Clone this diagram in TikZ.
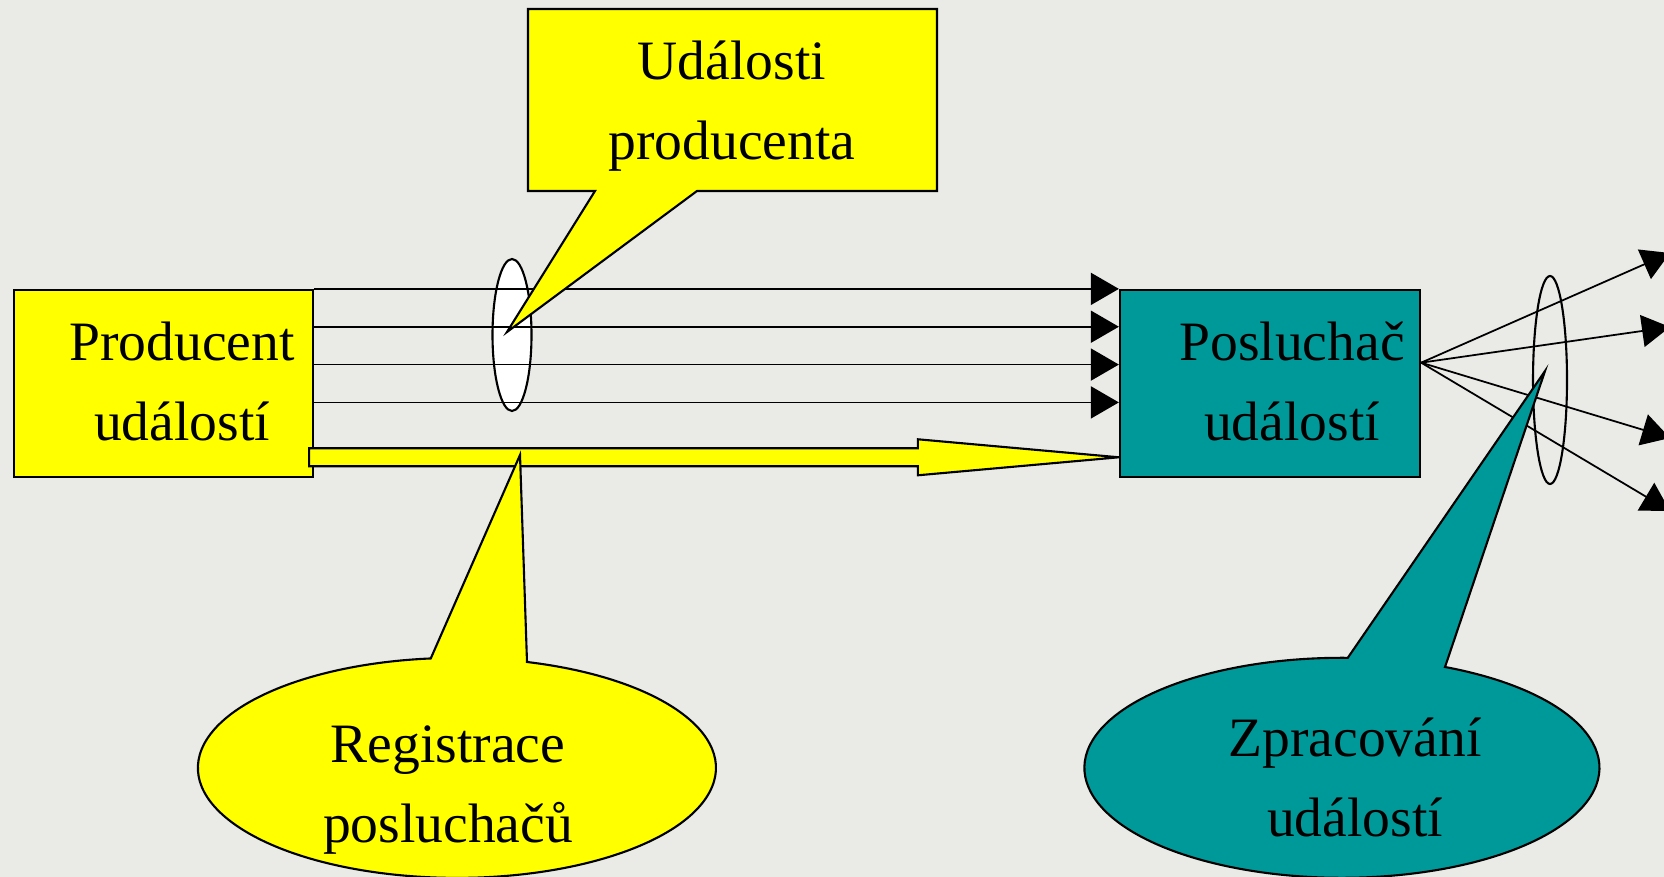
\documentclass[tikz,border=0pt]{standalone}
\usepackage{fontspec}
\setmainfont{Liberation Serif}
\usetikzlibrary{arrows.meta,calc}

\definecolor{zluta}{RGB}{255,255,0}
\definecolor{tyrkys}{RGB}{0,153,153}
\definecolor{pozadi}{RGB}{234,234,231}

\tikzset{
  blok/.style={draw=black, line width=0.6pt, minimum width=2.99cm, minimum height=1.87cm, inner sep=0pt},
  popis/.style={align=center, inner sep=0pt, anchor=base, font=\fontsize{15.8}{22.8}\selectfont},
  udalost/.style={line width=0.5pt, -{Triangle[length=2.8mm,width=3.2mm]}},
  bublina/.style={draw=black, line width=0.6pt}
}

\begin{document}
\begin{tikzpicture}[x=0.01cm, y=-0.01cm]
	\useasboundingbox (0,0) rectangle (1664,877);
	\fill[pozadi] (0,0) rectangle (1664,877);

	% bloky
	\node[blok, fill=zluta] (prod) at (163.5,383.5) {};
	\node[blok, fill=tyrkys, minimum width=3cm] (posl) at (1270,383.5) {};
	\node[popis] (prodtxt) at (182,441) {Producent\\ událostí};
	\node[popis] (posltxt) at (1292,441) {Posluchač\\ událostí};

	% udalosti producenta
	\draw[fill=white, line width=0.6pt] (512,335) ellipse [x radius=19.5, y radius=76];
	\foreach \f in {0,0.2,0.4,0.6}
		\draw[udalost] ($(prod.north east)!\f!(prod.south east)$) -- ($(posl.north west)!\f!(posl.south west)$);

	% registrace
	\coordinate (rs) at ($(prod.north east)!0.89!(prod.south east)$);
	\coordinate (re) at ($(posl.north west)!0.89!(posl.south west)$);
	\draw[fill=zluta, line width=0.6pt] ($(rs)+(-5,-9)$) -- ($(re)+(-201,-9)$) -- ($(re)+(-201,-18)$) -- (re)
		-- ($(re)+(-201,18)$) -- ($(re)+(-201,9)$) -- ($(rs)+(-5,9)$) -- cycle;

	% zpracovani
	\coordinate (fan) at ($(posl.north east)!0.39!(posl.south east)$);
	\draw[line width=0.6pt] (1550,380) ellipse [x radius=17, y radius=104];
	\foreach \y [count=\i] in {253,327,438,511}
		\coordinate (out\i) at (1670,\y);
	\foreach \i in {1,...,4}
		\draw[udalost] (fan) -- (out\i);

	% bubliny
	\coordinate (tipA) at (507,332);
	\draw[bublina, fill=zluta] (528,9) -- (937,9) -- (937,191) -- (697,191) -- (tipA) -- (595,191) -- (528,191) -- cycle;
	\node[popis] (udtxt) at (732,160) {Události\\ producenta};

	\coordinate (tipB) at (520,455);
	\draw[bublina, fill=zluta] (527,662) arc[start angle=-74.3, end angle=264.2, x radius=259, y radius=110] -- (tipB) -- cycle;
	\node[popis] (regtxt) at (448,843) {Registrace\\ posluchačů};

	\coordinate (tipC) at (1545,371);
	\draw[bublina, fill=tyrkys] (1445,667) arc[start angle=-66.4, end angle=271.3, x radius=257.5, y radius=110] -- (tipC) -- cycle;
	\node[popis] (zprtxt) at (1355,837) {Zpracování\\ událostí};
\end{tikzpicture}
\end{document}
